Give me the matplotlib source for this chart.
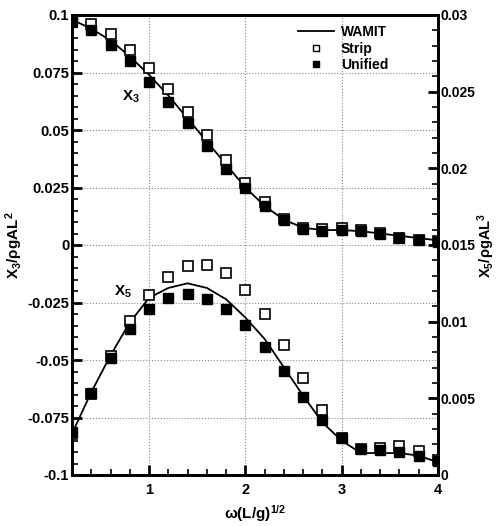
import numpy as np
import matplotlib
matplotlib.use("Agg")
import matplotlib.pyplot as plt
from matplotlib.ticker import MultipleLocator
from matplotlib.lines import Line2D

plt.rcParams['font.family'] = ['Liberation Sans', 'DejaVu Sans']
plt.rcParams['font.weight'] = 'bold'
plt.rcParams['mathtext.fontset'] = 'custom'
plt.rcParams['mathtext.rm'] = 'Liberation Sans:bold'
plt.rcParams['mathtext.it'] = 'Liberation Sans:bold'
plt.rcParams['mathtext.bf'] = 'Liberation Sans:bold'

# frequency points
omega = [0.2, 0.4, 0.6, 0.8, 1.0, 1.2, 1.4, 1.6, 1.8, 2.0,
         2.2, 2.4, 2.6, 2.8, 3.0, 3.2, 3.4, 3.6, 3.8, 4.0]

# heave X3 (left axis)
x3_wamit = [0.098, 0.094, 0.089, 0.082, 0.074, 0.065, 0.055, 0.045, 0.035, 0.025,
            0.017, 0.011, 0.0075, 0.0065, 0.0065, 0.006, 0.005, 0.004, 0.003, 0.002]
x3_strip = [0.098, 0.096, 0.0917, 0.085, 0.077, 0.068, 0.058, 0.048, 0.037, 0.027,
            0.0185, 0.0112, 0.0072, 0.007, 0.0074, 0.0067, 0.0052, 0.0032, 0.0022, 0.0016]
x3_unified = [0.097, 0.0934, 0.087, 0.080, 0.071, 0.062, 0.053, 0.043, 0.033, 0.025,
              0.017, 0.011, 0.007, 0.006, 0.0065, 0.006, 0.005, 0.003, 0.002, 0.0015]

# pitch X5 (right axis)
x5_wamit = [0.0027, 0.0054, 0.0078, 0.00995, 0.01155, 0.0122, 0.0125, 0.0122, 0.01146, 0.01027,
            0.00887, 0.00702, 0.00517, 0.00343, 0.00224, 0.00143, 0.00143, 0.00143, 0.00126, 0.00083]
x5_strip = [0.0027, 0.0053, 0.00777, 0.01005, 0.01175, 0.01293, 0.01364, 0.0137, 0.01316, 0.01209,
            0.0105, 0.0085, 0.00633, 0.00422, 0.0024, 0.0017, 0.00174, 0.00187, 0.00159, 0.001]
x5_unified = [0.00278, 0.00534, 0.00766, 0.00951, 0.01082, 0.01153, 0.01183, 0.0115, 0.0108, 0.00978,
              0.00837, 0.00676, 0.00511, 0.00359, 0.00239, 0.0017, 0.00165, 0.00152, 0.00122, 0.00093]

fig = plt.figure(figsize=(4.96, 5.26), dpi=100)
ax = fig.add_axes([72/496, 1-475/526, 366/496, 460/526])
ax2 = ax.twinx()

sq = dict(marker='s', markersize=6.5, linestyle='none')
ax.plot(omega, x3_wamit, color='black', lw=1.3)
ax.plot(omega, x3_strip, mfc='white', mec='black', mew=1.2, zorder=3, **sq)
ax.plot(omega, x3_unified, mfc='black', mec='black', zorder=4, **sq)

ax2.plot(omega, x5_wamit, color='black', lw=1.3)
ax2.plot(omega, x5_strip, mfc='white', mec='black', mew=1.2, zorder=3, **sq)
ax2.plot(omega, x5_unified, mfc='black', mec='black', zorder=4, **sq)

ax.set_xlim(0.2, 4)
ax.set_ylim(-0.1, 0.1)
ax2.set_ylim(0, 0.03)

ax.xaxis.set_major_locator(MultipleLocator(1))
ax.xaxis.set_minor_locator(MultipleLocator(0.2))
ax.yaxis.set_minor_locator(MultipleLocator(0.005))
ax2.yaxis.set_minor_locator(MultipleLocator(0.001))

ax.set_yticks([0.1, 0.075, 0.05, 0.025, 0, -0.025, -0.05, -0.075, -0.1])
ax.set_yticklabels(['0.1', '0.075', '0.05', '0.025', '0', '-0.025', '-0.05', '-0.075', '-0.1'])
ax2.set_yticks([0, 0.005, 0.01, 0.015, 0.02, 0.025, 0.03])
ax2.set_yticklabels(['0', '0.005', '0.01', '0.015', '0.02', '0.025', '0.03'])

for a in (ax, ax2):
    a.tick_params(which='major', direction='in', length=7, width=2, labelsize=10.5, pad=2)
    a.tick_params(which='minor', direction='in', length=4, width=1.2)
    for s in a.spines.values():
        s.set_linewidth(2)
ax2.tick_params(axis='y', labelsize=10, pad=2)
ax.tick_params(axis='x', pad=6)

ax.grid(True, which='major', linestyle=':', color='#888888', lw=0.8)

ax.set_xlabel(r'$\omega$(L/g)$^{1/2}$', fontsize=11, fontweight='bold', labelpad=4)
ax.set_ylabel(r'X$_3$/$\rho$gAL$^2$', fontsize=11, fontweight='bold', labelpad=2)
ax2.set_ylabel(r'X$_5$/$\rho$gAL$^3$', fontsize=10.5, fontweight='bold', labelpad=0)

ax.text(0.72, 0.063, r'X$_3$', fontsize=11, fontweight='bold')
ax.text(0.64, -0.022, r'X$_5$', fontsize=11, fontweight='bold')

handles = [Line2D([], [], color='black', lw=1.3),
           Line2D([], [], mfc='white', mec='black', mew=1, marker='s', markersize=5, linestyle='none'),
           Line2D([], [], mfc='black', mec='black', marker='s', markersize=5, linestyle='none')]
ax2.legend(handles, ['WAMIT', 'Strip', 'Unified'], loc='upper right',
           bbox_to_anchor=(0.89, 1.0), frameon=False, fontsize=10,
           handlelength=2.6, handletextpad=0.5, labelspacing=0.2, borderaxespad=0.3)

fig.savefig('out.png', dpi=100)
